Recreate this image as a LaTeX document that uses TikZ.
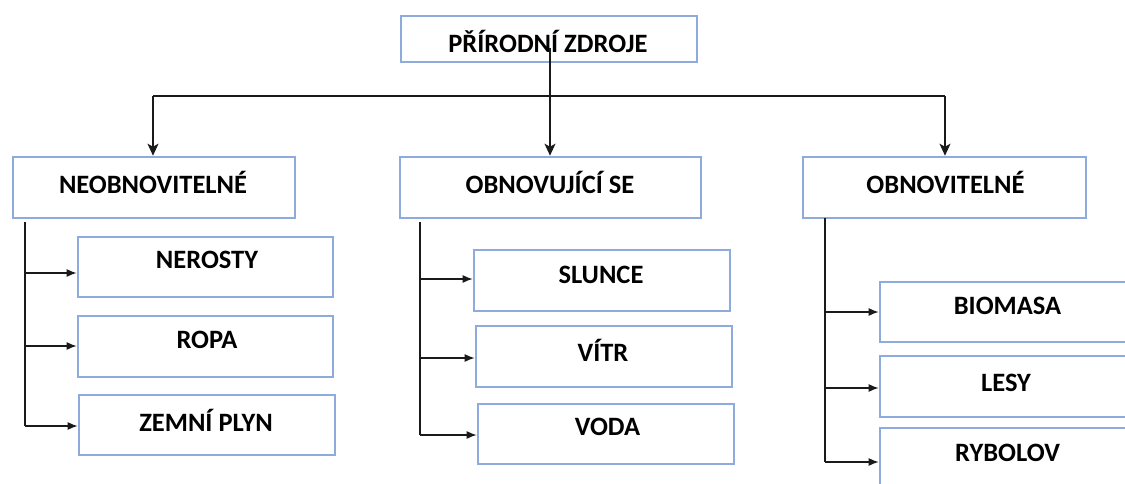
\documentclass[tikz,border=0pt]{standalone}
\usepackage{fontspec}
\setmainfont{Carlito}
\usetikzlibrary{arrows.meta}
\definecolor{boxblue}{HTML}{8FAADC}
\definecolor{linec}{HTML}{1A1A1A}
\tikzset{
  bx/.style={draw=boxblue, line width=2.6pt, fill=white, inner sep=0pt, rectangle},
  tx/.style={inner sep=0pt, font=\fontsize{26.5}{30}\selectfont\bfseries, anchor=center},
  conn/.style={draw=linec, line width=1.4pt},
  arr/.style={conn, -{Latex[length=10pt,width=8pt]}},
  toparr/.style={conn, -{Stealth[length=12pt,width=11pt,inset=3pt]}}
}
\begin{document}
\begin{tikzpicture}[x=1pt,y=-1pt]
\useasboundingbox (0,0) rectangle (1125,483);
\clip (0,0) rectangle (1125,483);
% top
\node[bx, minimum width=296pt, minimum height=46pt] (top) at (549,39) {};
\node[tx] (ttop) at (548,41) {PŘÍRODNÍ ZDROJE};
% categories
\node[bx, minimum width=282pt, minimum height=61pt] (neo) at (154,187.5) {};
\node[tx] (tneo) at (153,182) {NEOBNOVITELNÉ};
\node[bx, minimum width=301pt, minimum height=61pt] (obu) at (550.5,187.5) {};
\node[tx] (tobu) at (550,182) {OBNOVUJÍCÍ SE};
\node[bx, minimum width=283pt, minimum height=61pt] (obn) at (944.5,187.5) {};
\node[tx] (tobn) at (945.5,182) {OBNOVITELNÉ};
% left children
\node[bx, minimum width=255pt, minimum height=60pt] (ner) at (205.5,267) {};
\node[tx] (tner) at (207,260) {NEROSTY};
\node[bx, minimum width=255pt, minimum height=61pt] (rop) at (205.5,346.5) {};
\node[tx] (trop) at (207,340) {ROPA};
\node[bx, minimum width=256pt, minimum height=60pt] (zem) at (207,425) {};
\node[tx] (tzem) at (206,420) {ZEMNÍ PLYN};
% middle children
\node[bx, minimum width=256pt, minimum height=61pt] (slu) at (602,280.5) {};
\node[tx] (tslu) at (601,275) {SLUNCE};
\node[bx, minimum width=256pt, minimum height=61pt] (vit) at (604,356.5) {};
\node[tx] (tvit) at (603,350) {VÍTR};
\node[bx, minimum width=256pt, minimum height=60pt] (vod) at (606,434) {};
\node[tx] (tvod) at (607.5,427) {VODA};
% right children
\node[bx, minimum width=256pt, minimum height=60pt] (bio) at (1008,312) {};
\node[tx] (tbio) at (1007.5,306) {BIOMASA};
\node[bx, minimum width=256pt, minimum height=61pt] (les) at (1008,386.5) {};
\node[tx] (tles) at (1006,383) {LESY};
\node[bx, minimum width=256pt, minimum height=60pt] (ryb) at (1008,458) {};
\node[tx] (tryb) at (1007.5,453) {RYBOLOV};
% top connectors
\coordinate (ts) at (550,48);
\coordinate (hl) at (153,96);
\coordinate (hr) at (945,96);
\draw[conn] (hl) -- (hr);
\draw[toparr] (ts) -- (ts |- obu.north);
\draw[toparr] (hl) -- (hl |- neo.north);
\draw[toparr] (hr) -- (hr |- obn.north);
% left branch
\coordinate (lt) at (25,222);
\coordinate (lb) at (25,426);
\draw[conn] (lt) -- (lb);
\coordinate (l1) at (25,273);
\coordinate (l2) at (25,346);
\draw[arr] (l1) -- (l1 -| ner.west);
\draw[arr] (l2) -- (l2 -| rop.west);
\draw[arr] (lb) -- (lb -| zem.west);
% middle branch
\coordinate (mt) at (420,222);
\coordinate (mb) at (420,435);
\draw[conn] (mt) -- (mb);
\coordinate (m1) at (420,279);
\coordinate (m2) at (420,358);
\draw[arr] (m1) -- (m1 -| slu.west);
\draw[arr] (m2) -- (m2 -| vit.west);
\draw[arr] (mb) -- (mb -| vod.west);
% right branch
\coordinate (rt) at (825,218);
\coordinate (rb) at (825,462);
\draw[conn] (rt) -- (rb);
\coordinate (r1) at (825,312);
\coordinate (r2) at (825,388);
\draw[arr] (r1) -- (r1 -| bio.west);
\draw[arr] (r2) -- (r2 -| les.west);
\draw[arr] (rb) -- (rb -| ryb.west);
\end{tikzpicture}
\end{document}
